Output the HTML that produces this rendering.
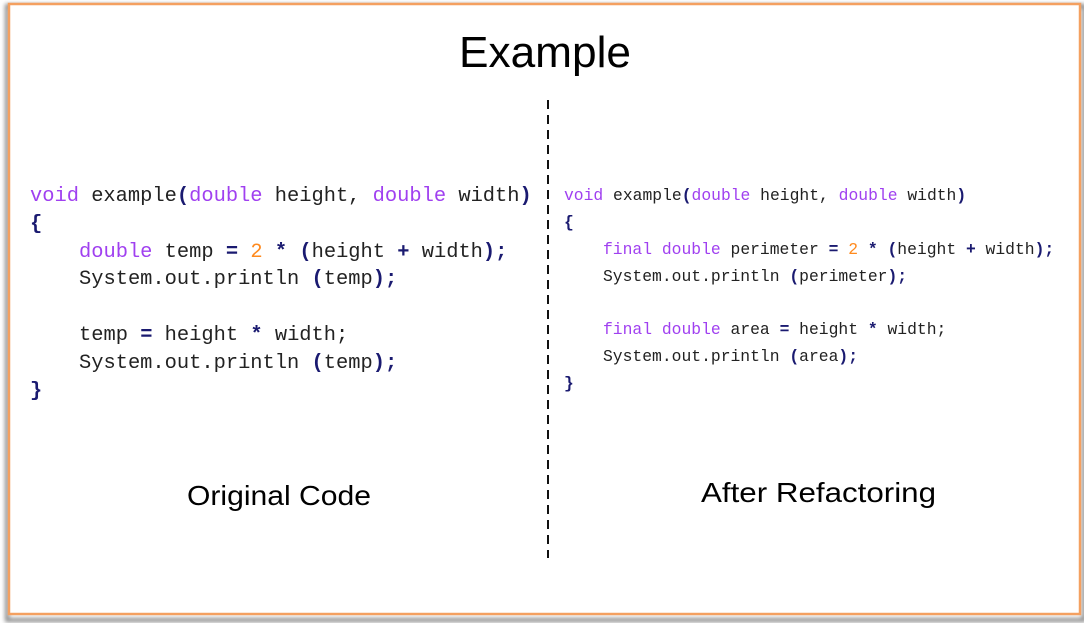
<!DOCTYPE html>
<html><head><meta charset="utf-8"><style>
html,body{margin:0;padding:0;background:#fff;}
svg{display:block}
.m{font-family:"Liberation Mono",monospace;white-space:pre}
.p{fill:#a040f0}.k{fill:#222}.n{fill:#1a1a70;font-weight:bold}.o{fill:#ff8a1e}
</style></head><body>
<svg width="1084" height="623" viewBox="0 0 1084 623" xmlns="http://www.w3.org/2000/svg">
<defs><filter id="sh" x="-5%" y="-5%" width="110%" height="110%"><feGaussianBlur stdDeviation="2"/></filter></defs>
<rect x="7" y="6" width="1077" height="614" fill="none" stroke="#888" stroke-width="4" filter="url(#sh)"/>
<rect x="9" y="4" width="1071" height="610" fill="#fff" stroke="#f4a060" stroke-width="2.5"/>
<text x="545" y="67" text-anchor="middle" font-family="Liberation Sans,sans-serif" font-size="44" textLength="172" lengthAdjust="spacingAndGlyphs">Example</text>
<line x1="548" y1="100" x2="548" y2="558" stroke="#111" stroke-width="2" stroke-dasharray="9 6"/>
<g class="m" font-size="20.4" xml:space="preserve">
<text x="30" y="201"><tspan class="p">void</tspan><tspan class="k"> example</tspan><tspan class="n">(</tspan><tspan class="p">double</tspan><tspan class="k"> height, </tspan><tspan class="p">double</tspan><tspan class="k"> width</tspan><tspan class="n">)</tspan></text>
<text x="30" y="229" class="n">{</text>
<text x="79" y="257"><tspan class="p">double</tspan><tspan class="k"> temp </tspan><tspan class="n">=</tspan><tspan class="k"> </tspan><tspan class="o">2</tspan><tspan class="k"> </tspan><tspan class="n">*</tspan><tspan class="k"> </tspan><tspan class="n">(</tspan><tspan class="k">height </tspan><tspan class="n">+</tspan><tspan class="k"> width</tspan><tspan class="n">);</tspan></text>
<text x="79" y="284"><tspan class="k">System.out.println </tspan><tspan class="n">(</tspan><tspan class="k">temp</tspan><tspan class="n">);</tspan></text>
<text x="79" y="340"><tspan class="k">temp </tspan><tspan class="n">=</tspan><tspan class="k"> height </tspan><tspan class="n">*</tspan><tspan class="k"> width;</tspan></text>
<text x="79" y="368"><tspan class="k">System.out.println </tspan><tspan class="n">(</tspan><tspan class="k">temp</tspan><tspan class="n">);</tspan></text>
<text x="30" y="396" class="n">}</text>
</g>
<g class="m" font-size="16.35" xml:space="preserve">
<text x="564" y="200"><tspan class="p">void</tspan><tspan class="k"> example</tspan><tspan class="n">(</tspan><tspan class="p">double</tspan><tspan class="k"> height, </tspan><tspan class="p">double</tspan><tspan class="k"> width</tspan><tspan class="n">)</tspan></text>
<text x="564" y="227" class="n">{</text>
<text x="603" y="254"><tspan class="p">final double</tspan><tspan class="k"> perimeter </tspan><tspan class="n">=</tspan><tspan class="k"> </tspan><tspan class="o">2</tspan><tspan class="k"> </tspan><tspan class="n">*</tspan><tspan class="k"> </tspan><tspan class="n">(</tspan><tspan class="k">height </tspan><tspan class="n">+</tspan><tspan class="k"> width</tspan><tspan class="n">);</tspan></text>
<text x="603" y="281"><tspan class="k">System.out.println </tspan><tspan class="n">(</tspan><tspan class="k">perimeter</tspan><tspan class="n">);</tspan></text>
<text x="603" y="334"><tspan class="p">final double</tspan><tspan class="k"> area </tspan><tspan class="n">=</tspan><tspan class="k"> height </tspan><tspan class="n">*</tspan><tspan class="k"> width;</tspan></text>
<text x="603" y="361"><tspan class="k">System.out.println </tspan><tspan class="n">(</tspan><tspan class="k">area</tspan><tspan class="n">);</tspan></text>
<text x="564" y="388" class="n">}</text>
</g>
<text x="187" y="505" font-family="Liberation Sans,sans-serif" font-size="28" textLength="184" lengthAdjust="spacingAndGlyphs">Original Code</text>
<text x="701" y="502" font-family="Liberation Sans,sans-serif" font-size="28" textLength="235" lengthAdjust="spacingAndGlyphs">After Refactoring</text>
</svg>
</body></html>
